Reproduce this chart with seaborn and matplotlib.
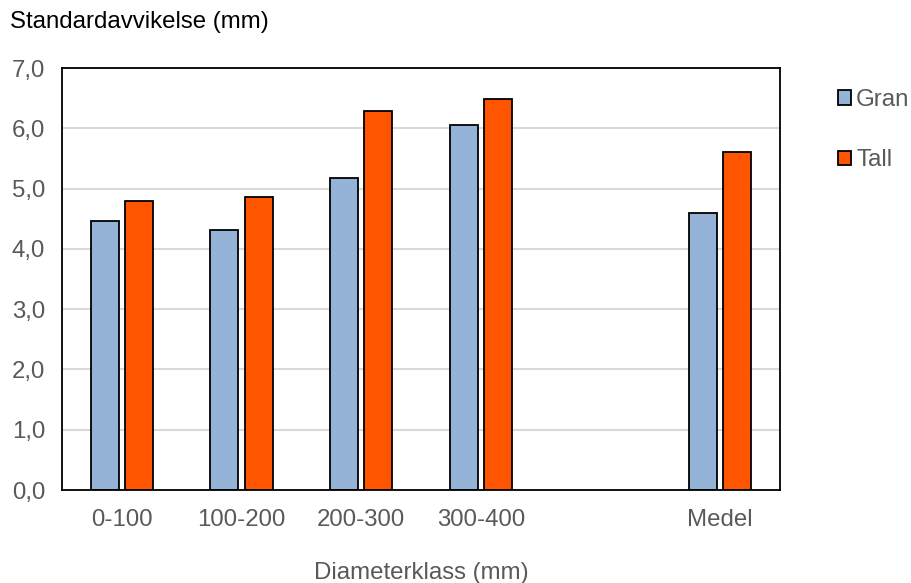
import matplotlib
matplotlib.use("Agg")
import matplotlib.pyplot as plt
import seaborn as sns
import pandas as pd
import numpy as np

categories = ["0-100", "100-200", "200-300", "300-400", " ", "Medel"]
gran = [4.46, 4.31, 5.18, 6.06, np.nan, 4.60]
tall = [4.79, 4.86, 6.28, 6.48, np.nan, 5.60]
series = ["Gran", "Tall"]
colors = ["#95B3D7", "#FF5500"]
yticks = [0.0, 1.0, 2.0, 3.0, 4.0, 5.0, 6.0, 7.0]
ytick_labels = ["0,0", "1,0", "2,0", "3,0", "4,0", "5,0", "6,0", "7,0"]

df = pd.DataFrame({
    "klass": categories * 2,
    "art": ["Gran"] * len(categories) + ["Tall"] * len(categories),
    "value": gran + tall,
})

sns.set_theme(style="white")
plt.rcParams["font.family"] = ["Liberation Sans", "DejaVu Sans"]
txt = "#595959"
fs = 17.3

fig = plt.figure(figsize=(9.11, 5.83), dpi=100)
ax = fig.add_axes([62 / 911, 1 - 490 / 583, (780 - 62) / 911, (490 - 68) / 583])

sns.barplot(data=df, x="klass", y="value", hue="art", order=categories,
            hue_order=series, palette=colors, width=0.57, gap=0.18,
            edgecolor="black", linewidth=1.3, saturation=1, ax=ax, legend=True,
            errorbar=None)

ax.set_ylim(0, 7)
ax.set_xlim(-0.5, len(categories) - 0.5)
ax.set_yticks(yticks)
ax.set_yticklabels(ytick_labels)
ax.yaxis.grid(True, color="#D9D9D9", linewidth=1.5)
ax.set_axisbelow(True)
for s in ax.spines.values():
    s.set_color("black")
    s.set_linewidth(1.3)
ax.tick_params(axis="both", length=0, labelsize=fs, labelcolor=txt)
ax.tick_params(axis="y", pad=12)
ax.tick_params(axis="x", pad=14)
ax.set_ylabel("")
ax.set_xlabel("Diameterklass (mm)", fontsize=fs, color=txt, labelpad=22)

fig.text(10 / 911, 1 - 22 / 583, "Standardavvikelse (mm)", fontsize=fs,
         color="black", ha="left", va="center")

handles, labels = ax.get_legend_handles_labels()
ax.get_legend().remove()
leg = fig.legend(handles, labels, loc="upper left",
                 bbox_to_anchor=(838 / 911, 1 - 89 / 583), frameon=False,
                 fontsize=fs, labelcolor=txt, handlelength=0.55,
                 handleheight=0.55, handletextpad=0.2, labelspacing=1.6,
                 borderaxespad=0, borderpad=0)

fig.savefig("out.png", dpi=100)
